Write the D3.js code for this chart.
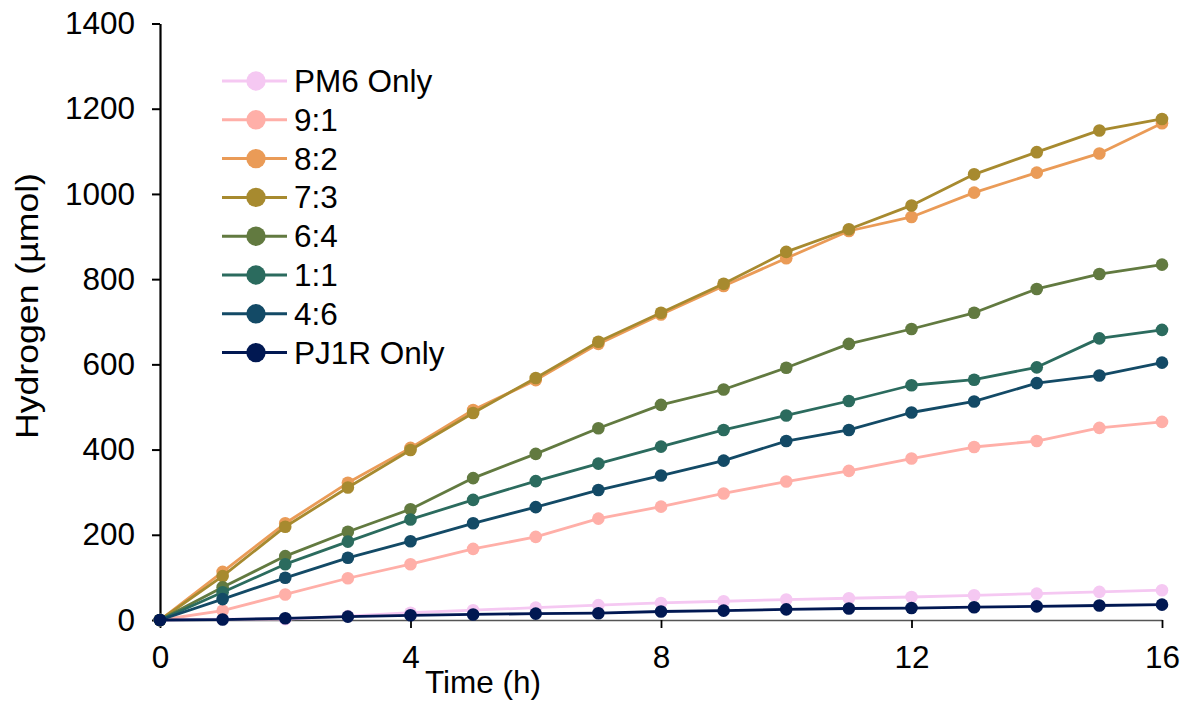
<!DOCTYPE html>
<html>
<head>
<meta charset="utf-8">
<script src="https://cdn.jsdelivr.net/npm/d3@7"></script>
<style>
  html, body { margin: 0; padding: 0; background: #fff; }
  svg { display: block; font-family: Arial, "Liberation Sans", sans-serif; }
</style>
</head>
<body>
<svg id="chart" width="1184" height="711"></svg>
<script>
// ---- data ----
const hours = [0,1,2,3,4,5,6,7,8,9,10,11,12,13,14,15,16];
const seriesNames = ["PM6 Only","9:1","8:2","7:3","6:4","1:1","4:6","PJ1R Only"];
const seriesColors = ["#F5C8F2","#FFAFA8","#EA9B57","#A78A2F","#627A40","#2B6B5E","#134A66","#011852"];
const pm6Only  = [0, 2, 2, 9, 17, 23, 29, 35, 40, 44, 48, 51, 54, 58, 62, 66, 70];
const ratio91  = [0, 22, 60, 98, 131, 167, 195, 238, 266, 297, 325, 350, 379, 406, 420, 451, 465];
const ratio82  = [0, 113, 227, 322, 404, 493, 563, 648, 717, 784, 849, 913, 946, 1003, 1050, 1095, 1166];
const ratio73  = [0, 103, 219, 311, 399, 486, 568, 653, 721, 789, 864, 917, 973, 1046, 1098, 1149, 1176];
const ratio64  = [0, 77, 150, 207, 260, 333, 390, 450, 505, 541, 592, 648, 683, 721, 777, 812, 834];
const ratio11  = [0, 65, 131, 184, 236, 282, 326, 367, 407, 446, 480, 514, 551, 564, 593, 661, 681];
const ratio46  = [0, 49, 99, 146, 185, 227, 265, 305, 339, 374, 420, 446, 487, 513, 556, 574, 604];
const pj1rOnly = [0, 1, 4, 8, 11, 13, 15, 16, 20, 22, 25, 27, 28, 30, 32, 34, 36];
const seriesValues = [pm6Only, ratio91, ratio82, ratio73, ratio64, ratio11, ratio46, pj1rOnly];
const xTicks = [0, 4, 8, 12, 16];
const yTicks = [0, 200, 400, 600, 800, 1000, 1200, 1400];
const xTitle = "Time (h)";
const yTitle = "Hydrogen (\u00B5mol)";

// ---- layout ----
const svg = d3.select("#chart");
const x = d3.scaleLinear().domain([0, 16]).range([160, 1162]);
const y = d3.scaleLinear().domain([0, 1400]).range([620, 23.5]);
const fontSize = 31.5;
const fmt = d3.format("d");

// axes
const yAxis = svg.append("g")
  .attr("transform", `translate(${x(0)},0)`)
  .call(d3.axisLeft(y).tickValues(yTicks).tickFormat(fmt).tickSize(8).tickPadding(17).tickSizeOuter(0));
yAxis.select(".domain").attr("stroke", "#000").attr("stroke-width", 2.2);
yAxis.selectAll(".tick line").attr("stroke", "#000").attr("stroke-width", 2);
yAxis.selectAll(".tick text").attr("font-size", fontSize).attr("fill", "#000")
  .attr("font-family", "Arial, 'Liberation Sans', sans-serif");

const xAxis = svg.append("g")
  .attr("transform", `translate(0,${y(0)})`)
  .call(d3.axisBottom(x).tickValues(xTicks).tickFormat(fmt).tickSize(8).tickPadding(18).tickSizeOuter(0));
xAxis.select(".domain").attr("stroke", "#555").attr("stroke-width", 1.5);
xAxis.selectAll(".tick line").attr("stroke", "#000").attr("stroke-width", 1.8);
xAxis.selectAll(".tick text").attr("font-size", fontSize).attr("fill", "#000")
  .attr("font-family", "Arial, 'Liberation Sans', sans-serif");

// axis titles
svg.append("text")
  .attr("x", 483).attr("y", 693)
  .attr("text-anchor", "middle")
  .attr("font-size", fontSize).attr("fill", "#000")
  .text(xTitle);
svg.append("text")
  .attr("transform", "translate(38,306) rotate(-90)")
  .attr("text-anchor", "middle")
  .attr("font-size", fontSize).attr("fill", "#000")
  .attr("textLength", 266)
  .attr("lengthAdjust", "spacingAndGlyphs")
  .text(yTitle);

// series
const line = d3.line().x((d, i) => x(hours[i])).y(d => y(d));
seriesValues.forEach((vals, si) => {
  const g = svg.append("g");
  g.append("path")
    .attr("d", line(vals))
    .attr("fill", "none")
    .attr("stroke", seriesColors[si])
    .attr("stroke-width", 2.8)
    .attr("stroke-linejoin", "round");
  g.selectAll("circle").data(vals).join("circle")
    .attr("cx", (d, i) => x(hours[i]))
    .attr("cy", d => y(d))
    .attr("r", 6.3)
    .attr("fill", seriesColors[si]);
});

// legend
const legend = svg.append("g");
seriesNames.forEach((name, i) => {
  const cy = 81 + i * 38.8;
  legend.append("line")
    .attr("x1", 222).attr("x2", 287).attr("y1", cy).attr("y2", cy)
    .attr("stroke", seriesColors[i]).attr("stroke-width", 3);
  legend.append("circle")
    .attr("cx", 256).attr("cy", cy).attr("r", 9.7)
    .attr("fill", seriesColors[i]);
  legend.append("text")
    .attr("x", 294).attr("y", cy)
    .attr("dy", "0.35em")
    .attr("font-size", fontSize).attr("fill", "#000")
    .text(name);
});
</script>
</body>
</html>
